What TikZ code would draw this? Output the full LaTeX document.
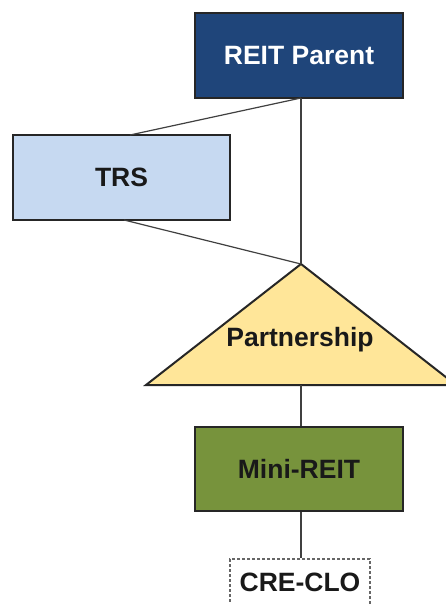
\documentclass[tikz,border=0pt]{standalone}
\usepackage{fontspec}
\setmainfont{Liberation Sans}
\definecolor{parentblue}{HTML}{1F457A}
\definecolor{trsblue}{HTML}{C6D9F1}
\definecolor{partyellow}{HTML}{FFE699}
\definecolor{miniolive}{HTML}{77933C}
\definecolor{linegray}{HTML}{404040}
\tikzset{
  labelfont/.style={font=\fontsize{26.5}{30}\selectfont\bfseries, text=black!90},
  entity/.style={draw=black!85, line width=2pt, rectangle, inner sep=0pt, labelfont},
  link/.style={draw=linegray, line width=1.2pt},
}
\begin{document}
\begin{tikzpicture}[x=1pt,y=-1pt]
\useasboundingbox (0,0) rectangle (446,604);
\clip (0,0) rectangle (446,604);
\fill[white] (0,0) rectangle (446,604);
% triangle
\coordinate (apex) at (301,264);
\coordinate (bl) at (146,385);
\coordinate (br) at (456,385);
\coordinate (base) at (301,385);
\draw[fill=partyellow, draw=black!85, line width=2pt, line join=miter] (apex) -- (bl) -- (br) -- cycle;
\node[labelfont] (part) at (300,340) {Partnership};
% boxes
\node[entity, fill=parentblue, text=white, minimum width=208pt, minimum height=85pt] (parent) at (299,55.5) {REIT Parent};
\node[entity, fill=trsblue, minimum width=217pt, minimum height=85pt] (trs) at (121.5,177.5) {TRS};
\node[entity, fill=miniolive, minimum width=208pt, minimum height=84pt] (mini) at (299,469) {Mini-REIT};
\node[rectangle, draw=black!60, dashed, dash pattern=on 3pt off 2pt, line width=1.3pt, minimum width=140pt, minimum height=60pt, inner sep=0pt] (clo) at (300,589) {};
\node[labelfont] (clotext) at (300,582) {CRE-CLO};
% connectors
\coordinate (pb) at (301,98);
\coordinate (tt) at (130,135);
\coordinate (tb) at (124,220);
\draw[link] (pb) -- (apex);
\draw[link] (pb) -- (tt);
\draw[link] (tb) -- (apex);
\draw[link] (base) -- (mini.north -| base);
\draw[link] (mini.south -| base) -- (clo.north -| base);
\end{tikzpicture}
\end{document}
